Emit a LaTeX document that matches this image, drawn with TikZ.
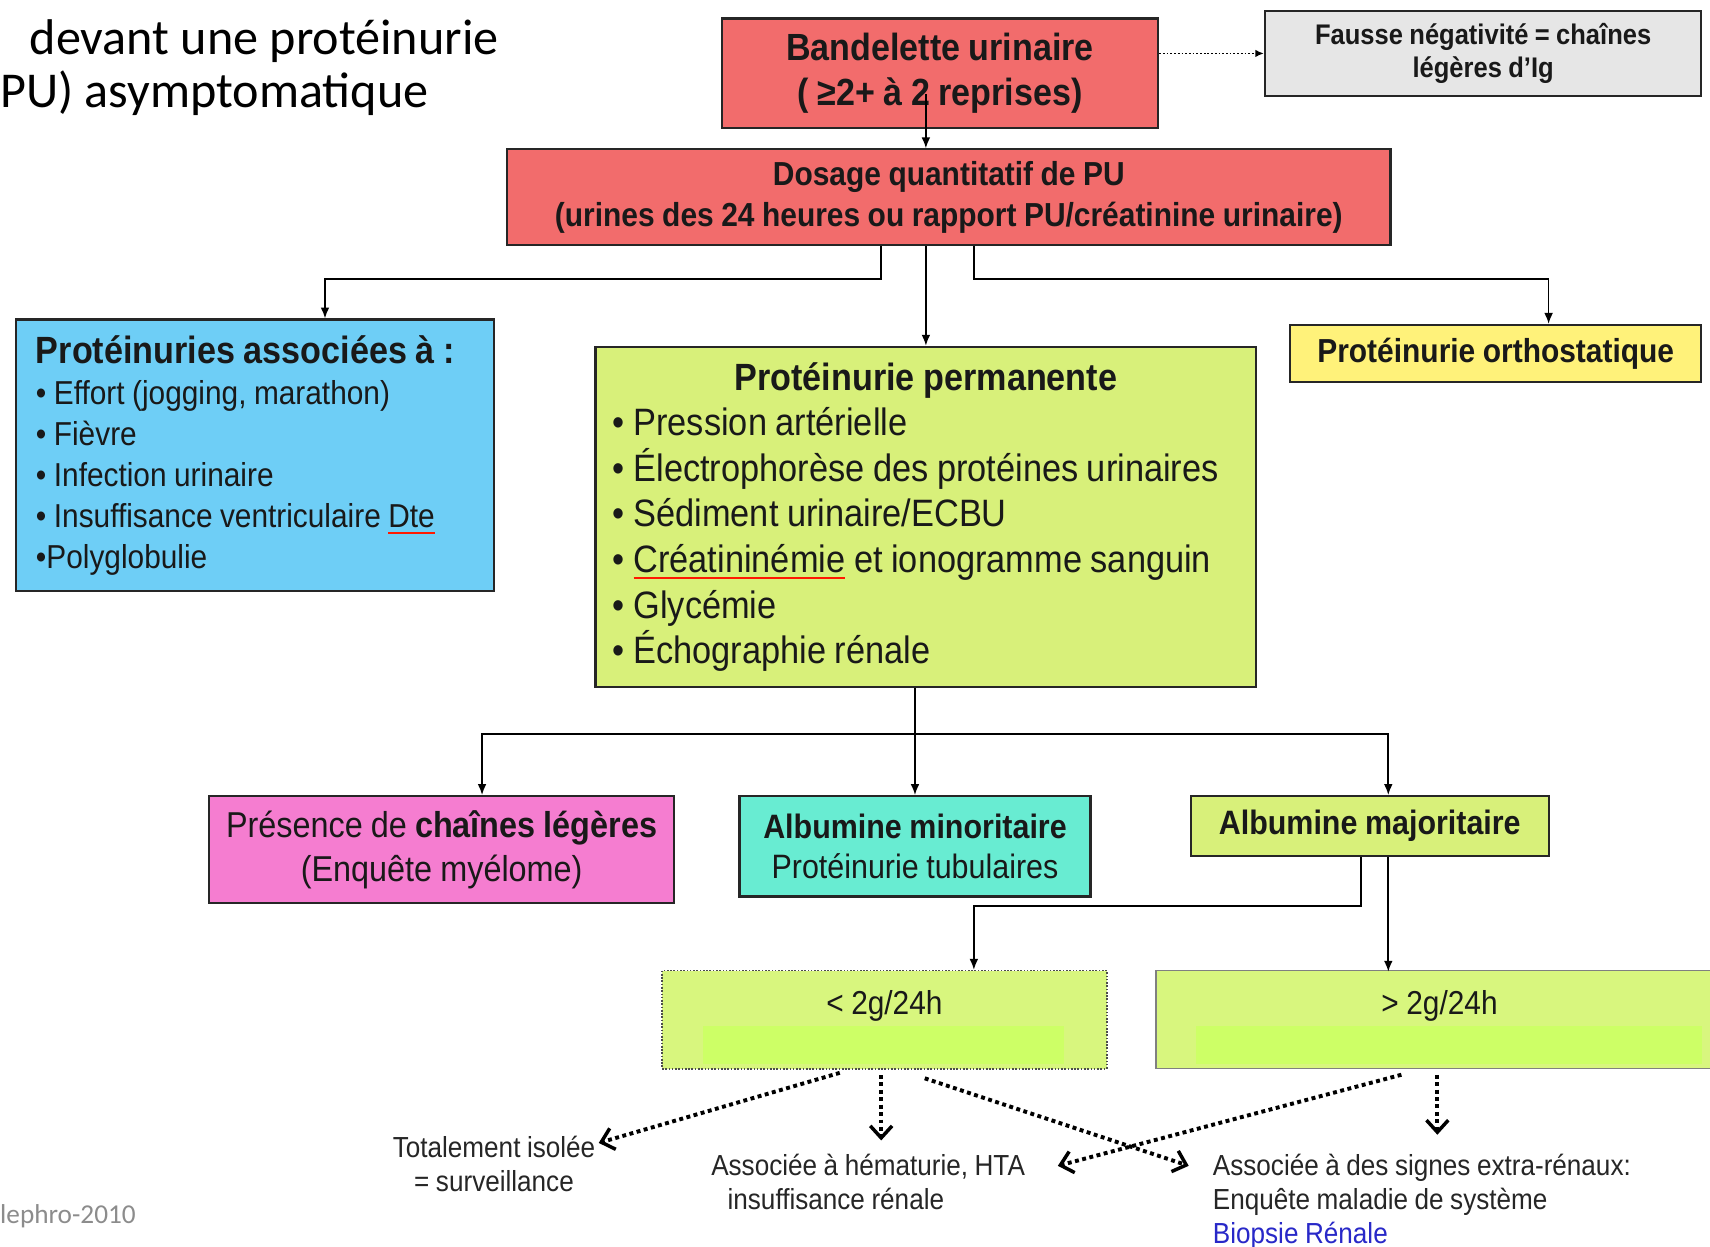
\documentclass[tikz,border=0pt]{standalone}
\usepackage{fontspec}
\setmainfont{Liberation Sans}[FakeStretch=0.9,WordSpace=0.9]
\newfontfamily\slidefont{Carlito}
\usetikzlibrary{arrows.meta,positioning,calc}

\definecolor{stripred}{RGB}{242,108,108}
\definecolor{falsegray}{RGB}{230,230,230}
\definecolor{assocblue}{RGB}{110,206,246}
\definecolor{permgreen}{RGB}{216,240,122}
\definecolor{orthoyellow}{RGB}{255,242,122}
\definecolor{chainpink}{RGB}{245,125,208}
\definecolor{tubcyan}{RGB}{104,236,210}
\definecolor{dosegreen}{RGB}{216,246,126}
\definecolor{doselime}{RGB}{205,255,102}
\definecolor{linkblue}{RGB}{40,40,200}

\newcommand\fsz[2]{\fontsize{#1}{#2}\selectfont}
\newsavebox\spellbox
\newcommand\spellerr[1]{\sbox\spellbox{#1}\rlap{\textcolor{red!80!orange}{\raisebox{-6pt}{\rule{\wd\spellbox}{1.5pt}}}}\usebox\spellbox}

\tikzset{
  box/.style={draw=black!85, line width=2pt, inner sep=0pt, align=center, text=black!90},
  arr/.style={-{Latex[length=10pt,width=8pt]}, line width=1.5pt},
  dotlink/.style={-{Latex[length=8pt,width=7pt]}, line width=1.6pt, dash pattern=on 1.6pt off 1.8pt},
  dotarr/.style={-{Straight Barb[length=11pt,width=20pt,line width=3.2pt]}, line width=3.6pt, dash pattern=on 3.6pt off 3.2pt},
  note/.style={inner sep=0pt, text=black!85, font=\fsz{26.6}{31}},
}

\begin{document}
\begin{tikzpicture}[x=1pt,y=-1pt]
\useasboundingbox (0,0) rectangle (1568,1143);
\fill[white] (0,0) rectangle (1568,1143);

% titre de la diapo
\node[anchor=base west, inner sep=0pt, font=\slidefont\fsz{46}{50}] (title1) at (27,50) {devant une protéinurie};
\node[anchor=base west, inner sep=0pt, font=\slidefont\fsz{46}{50}] (title2) at (0,99) {PU) asymptomatique};
\node[anchor=base west, inner sep=0pt, text=black!45, font=\slidefont\fsz{25}{28}] (source) at (0,1122) {lephro-2010};

% boites du haut
\node[box, fill=stripred, minimum width=400pt, minimum height=100pt, font=\bfseries\fsz{34.7}{41}] (strip) at (862,67) {Bandelette urinaire\\( ≥2+ à 2 reprises)};
\node[box, fill=falsegray, minimum width=400pt, minimum height=78pt, font=\bfseries\fsz{26}{30}] (false) at (1360,49) {Fausse négativité = chaînes\\légères d'Ig};
\node[box, fill=stripred, minimum width=810pt, minimum height=88pt, font=\bfseries\fsz{30.5}{37}] (dosage) at (870,181) {Dosage quantitatif de PU\\(urines des 24 heures ou rapport PU/créatinine urinaire)};

% niveau 2
\node[box, fill=assocblue, minimum width=438pt, minimum height=249pt, text width=402pt, align=left, font=\fsz{30.4}{37.5}] (assoc) at (234,417.5) {\spaceskip=0pt\relax{\bfseries\fsz{34.8}{37.5}Protéinuries associées à :}\\
• Effort (jogging, marathon)\\
• Fièvre\\
• Infection urinaire\\
• Insuffisance ventriculaire \spellerr{Dte}\\
•Polyglobulie};
\node[box, fill=permgreen, minimum width=606pt, minimum height=312pt, text width=574pt, align=left, font=\fsz{35}{41.8}] (perm) at (849,474) {\spaceskip=0pt\relax{\centering\bfseries\fsz{34.8}{41.8}Protéinurie permanente\par}
• Pression artérielle\\
• Électrophorèse des protéines urinaires\\
• Sédiment urinaire/ECBU\\
• \spellerr{Créatininémie} et ionogramme sanguin\\
• Glycémie\\
• Échographie rénale};
\node[box, fill=orthoyellow, minimum width=377pt, minimum height=52pt, font=\bfseries\fsz{30.5}{36}] (ortho) at (1371.5,324) {Protéinurie orthostatique};

% niveau 3
\node[box, fill=chainpink, minimum width=426pt, minimum height=98pt, font=\fsz{33}{40}] (chains) at (405,779) {Présence de \textbf{chaînes légères}\\(Enquête myélome)};
\node[box, fill=tubcyan, minimum width=322pt, minimum height=92pt, font=\fsz{31}{37}] (albmin) at (839,776) {\textbf{Albumine minoritaire}\\Protéinurie tubulaires};
\node[box, fill=permgreen, minimum width=328pt, minimum height=55pt, font=\bfseries\fsz{31}{36}] (albmaj) at (1256,757.5) {Albumine majoritaire};

% debit de PU
\node[box, fill=dosegreen, draw=black!70, line width=1.5pt, dash pattern=on 1.5pt off 1.5pt, minimum width=408pt, text height=40pt, text depth=50pt, font=\fsz{30.4}{36}] (low) at (811,935) {< 2g/24h};
\node[box, fill=dosegreen, draw=black!50, line width=1pt, minimum width=520pt, text height=40pt, text depth=50pt, font=\fsz{30.4}{36}] (high) at (1320,935) {> 2g/24h};
\fill[doselime] ($(low.south west)+(38,-40)$) rectangle ($(low.south east)+(-40,-5)$);
\fill[doselime] ($(high.south west)+(37,-40)$) rectangle ($(high.south east)+(-20,-5)$);

% conduites
\node[note, anchor=north, align=center] (iso) at (453,1042) {Totalement isolée\\= surveillance};
\node[note, anchor=north west, align=left] (hema) at (652,1058) {Associée à hématurie, HTA\\\hspace*{15pt}insuffisance rénale};
\node[note, anchor=north west, align=left] (extra) at (1112,1058) {Associée à des signes extra-rénaux:\\Enquête maladie de système\\\textcolor{linkblue}{Biopsie Rénale}};

% fleches
\draw[dotlink] (strip.east |- false.west) -- (false.west);
\draw[arr] ($(strip.south -| perm.north)+(0,-32)$) -- (dosage.north -| perm.north);
\draw[arr] (dosage.south -| perm.north) -- (perm.north);
\draw[arr] ($(dosage.south)+(-62,0)$) -- ++(0,30) -| ($(assoc.north)+(64,0)$);
\draw[arr] ($(dosage.south)+(23,0)$) -- ++(0,30) -| ($(ortho.north)+(48.5,0)$);

\draw[arr] (perm.south -| albmin.north) -- (albmin.north);
\draw[arr] (perm.south -| albmin.north) -- ++(0,42) -| ($(chains.north)+(37,0)$);
\draw[arr] (perm.south -| albmin.north) -- ++(0,42) -| ($(albmaj.north)+(17,0)$);

\draw[arr] ($(albmaj.south)+(-8,0)$) -- ++(0,45) -| ($(low.north)+(82,0)$);
\draw[arr] ($(albmaj.south)+(17,0)$) -- ++(0,105);

\draw[dotarr] ($(low.south)+(-41,3)$) -- ($(iso.north east)+(3,6)$);
\draw[dotarr] ($(low.south)+(-3,5)$) -- ++(0,60);
\draw[dotarr] ($(low.south)+(37,8)$) -- ($(extra.north west)+(-22,11)$);
\draw[dotarr] ($(high.south)+(-35,5)$) -- ($(hema.north west)+(318,11)$);
\draw[dotarr] ($(high.south)+(-2,5)$) -- ++(0,55);
\end{tikzpicture}
\end{document}
